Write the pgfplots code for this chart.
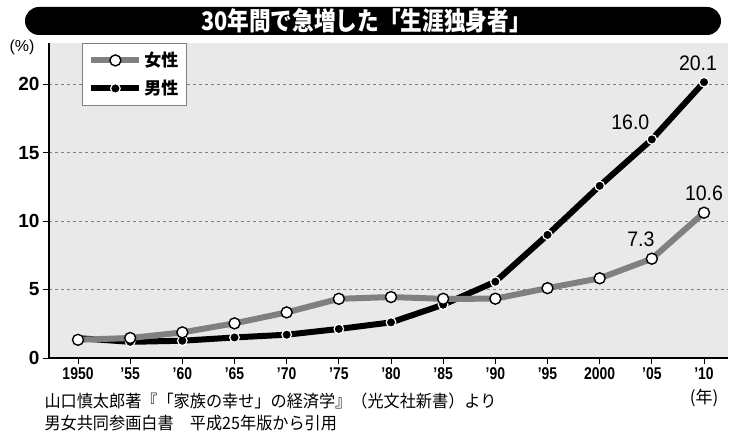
\documentclass[border=0pt]{standalone}
\usepackage{pgfplots}
\pgfplotsset{compat=1.18}
\usepackage{fontspec}
\setmainfont{Liberation Sans}
\newfontfamily\jp{Noto Sans CJK JP}
\newfontfamily\jpcond[FakeStretch=0.85]{Noto Sans CJK JP}
\newfontfamily\jpsrc[FakeStretch=0.95]{Noto Sans CJK JP}
\newfontfamily\cond[FakeStretch=0.82]{Liberation Sans}
\newfontfamily\lab[FakeStretch=0.93]{Liberation Sans}
\begin{document}
\begin{tikzpicture}[x=1pt,y=1pt]
\path[use as bounding box] (0,0) rectangle (750,436);
\fill[black, rounded corners=14pt] (25,401) rectangle (721,429);
\node[text=white, font=\jpcond\bfseries\fontsize{25.5}{27}\selectfont] at (366,415) {30年間で急増した「生涯独身者」};
\begin{axis}[
 at={(49pt,78pt)}, anchor=south west, scale only axis, width=679pt, height=315pt,
 xmin=-0.556, xmax=12.46, ymin=0, ymax=23,
 axis x line=bottom, axis y line=left, axis line style={line width=1.8pt, -},
 axis background/.style={fill=gray!17},
 ytick={0,5,10,15,20}, ymajorgrids, grid style={dashed, gray, line width=0.6pt},
 xtick={0,...,12}, xticklabels={1950,’55,’60,’65,’70,’75,’80,’85,’90,’95,2000,’05,’10},
 tick align=outside, major tick length=6pt, tick style={black, line width=0.8pt},
 /pgf/number format/assume math mode=true,
 yticklabel style={font=\bfseries\fontsize{19}{20}\selectfont},
 xticklabel style={font=\cond\bfseries\fontsize{17}{18}\selectfont},
 clip=false,
 reverse legend,
 legend style={at={(0.0486,1)}, anchor=north west, draw=gray, fill=white, line width=0.8pt,
   font=\jp\bfseries\fontsize{17}{19}\selectfont, row sep=8pt, inner xsep=6pt, inner ysep=7pt},
 legend cell align=left,
 legend image code/.code={\draw[mark repeat=2,mark phase=2,#1] plot coordinates {(0pt,0pt) (24pt,0pt) (48pt,0pt)};},
]
\addplot[black, line width=6pt, mark=*, mark size=4.8pt, mark options={fill=black, draw=white, line width=1.2pt}]
 coordinates {(0,1.45) (1,1.18) (2,1.26) (3,1.50) (4,1.70) (5,2.12) (6,2.60) (7,3.89) (8,5.57) (9,8.99) (10,12.57) (11,15.96) (12,20.14)};
\addlegendentry{男性}
\addplot[gray, line width=6pt, mark=*, mark size=5.5pt, mark options={fill=white, draw=black, line width=1.4pt}]
 coordinates {(0,1.33) (1,1.46) (2,1.87) (3,2.53) (4,3.33) (5,4.32) (6,4.45) (7,4.32) (8,4.33) (9,5.10) (10,5.82) (11,7.25) (12,10.61)};
\addlegendentry{女性}
\node[anchor=south, xshift=-6pt, yshift=8pt, font=\lab\fontsize{21}{22}\selectfont] at (axis cs:12,20.14) {20.1};
\node[anchor=south east, xshift=1pt, yshift=6pt, font=\lab\fontsize{21}{22}\selectfont] at (axis cs:11,15.96) {16.0};
\node[anchor=south, yshift=8pt, font=\lab\fontsize{21}{22}\selectfont] at (axis cs:12,10.61) {10.6};
\node[anchor=south, xshift=-11pt, yshift=8pt, font=\lab\fontsize{21}{22}\selectfont] at (axis cs:11,7.25) {7.3};
\end{axis}
\node[font=\fontsize{16}{18}\selectfont] at (22,389) {(\%)};
\node[font=\jp\fontsize{17}{19}\selectfont] at (704,38) {(年)};
\node[anchor=west, font=\jpsrc\fontsize{17}{19}\selectfont] at (41,35) {山口慎太郎著『「家族の幸せ」の経済学』（光文社新書）より};
\node[anchor=west, font=\jpsrc\fontsize{17}{19}\selectfont] at (41,13) {男女共同参画白書　平成25年版から引用};
\end{tikzpicture}
\end{document}
